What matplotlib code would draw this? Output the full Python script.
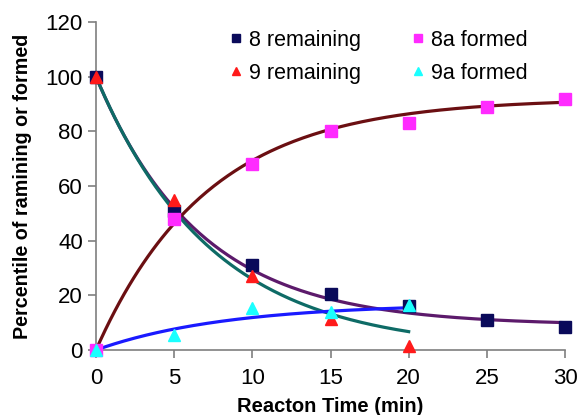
import numpy as np
from matplotlib import pyplot as plt

plt.rcParams['font.family'] = ['Liberation Sans', 'DejaVu Sans']

# measured points
time = [0, 5, 10, 15, 20, 25, 30]
rem8 = [100, 51, 31, 20.5, 16, 11, 8.5]
formed8a = [0, 48, 68, 80, 83, 89, 92]
time9 = [0, 5, 10, 15, 20]
rem9 = [100, 55, 27, 11.5, 1.5]
formed9a = [0, 5.5, 15.5, 14, 16.5]

# fitted trend lines (amplitude, rate, offset)
fit8 = (91, 0.15, 9)
fit8a = (92, 0.14)
fit9 = (100, 0.135)
fit9a = (17, 0.12)

t30 = np.linspace(0, 30, 200)
t20 = np.linspace(0, 20, 200)

fig = plt.figure(figsize=(5.79, 4.15), dpi=100)
ax = fig.add_axes([96/579, 1-350/415, (565-96)/579, (350-22)/415])

ax.plot(t30, fit8[0]*np.exp(-fit8[1]*t30) + fit8[2], color='#5c1a6b', lw=2.3, zorder=2)
ax.plot(t30, fit8a[0]*(1 - np.exp(-fit8a[1]*t30)), color='#6b0f12', lw=2.3, zorder=2)
ax.plot(t20, fit9[0]*np.exp(-fit9[1]*t20), color='#0e6b66', lw=2.3, zorder=2)
ax.plot(t20, fit9a[0]*(1 - np.exp(-fit9a[1]*t20)), color='#1a1aff', lw=2.3, zorder=2)

ax.plot(time, rem8, 's', color='#0a0a5a', ms=8, label='8 remaining', zorder=3, clip_on=False)
ax.plot(time9, rem9, '^', color='#ff1a1a', ms=8, label='9 remaining', zorder=3, clip_on=False)
ax.plot(time, formed8a, 's', color='#ff2bff', ms=8, label='8a formed', zorder=3, clip_on=False)
ax.plot(time9, formed9a, '^', color='#1affff', ms=8, label='9a formed', zorder=3, clip_on=False)

ax.set_xlim(0, 30)
ax.set_ylim(0, 120)
ax.set_xticks([0, 5, 10, 15, 20, 25, 30])
ax.set_yticks([0, 20, 40, 60, 80, 100, 120])
for side in ['top', 'right']:
    ax.spines[side].set_visible(False)
for side in ['left', 'bottom']:
    ax.spines[side].set_color('#7f7f7f')
    ax.spines[side].set_linewidth(1.2)
ax.tick_params(axis='both', colors='#7f7f7f', labelcolor='black', labelsize=16,
               length=6, width=1.2, direction='out')
ax.tick_params(axis='x', pad=7)

ax.set_xlabel('Reacton Time (min)', fontsize=14.5, fontweight='bold', labelpad=6)
ax.set_ylabel('Percentile of ramining or formed', fontsize=14.2, fontweight='bold', labelpad=10)

ax.legend(loc='upper left', bbox_to_anchor=(0.245, 1.035), ncol=2, frameon=False,
          fontsize=15.5, handlelength=0.5, handletextpad=0.35, columnspacing=2.4,
          labelspacing=0.55, markerscale=0.7)

plt.savefig('out.png', dpi=100)
plt.close()
